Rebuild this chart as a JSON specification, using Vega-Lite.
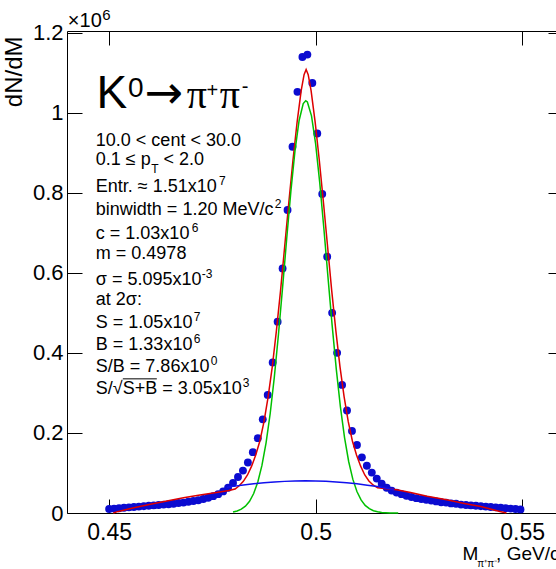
{
"$schema": "https://vega.github.io/schema/vega-lite/v6.json",
"width": 489,
"height": 482,
"autosize": {"type": "none"},
"padding": {"left": 67, "top": 31, "right": 0, "bottom": 56},
"background": "white",
"config": {
  "view": {"stroke": null},
  "axis": {"labelFont": "Liberation Sans", "titleFont": "Liberation Sans", "domainColor": "#000", "tickColor": "#000", "labelColor": "#000", "titleColor": "#000", "grid": false, "domainWidth": 1, "tickWidth": 1}
},
"datasets": {
  "points": [
    {"mass":0.4500,"count":0.010},{"mass":0.4512,"count":0.011},{"mass":0.4524,"count":0.012},{"mass":0.4536,"count":0.013},
    {"mass":0.4548,"count":0.014},{"mass":0.4560,"count":0.015},{"mass":0.4572,"count":0.016},{"mass":0.4584,"count":0.017},
    {"mass":0.4596,"count":0.018},{"mass":0.4608,"count":0.019},{"mass":0.4620,"count":0.020},{"mass":0.4632,"count":0.021},
    {"mass":0.4644,"count":0.022},{"mass":0.4656,"count":0.023},{"mass":0.4668,"count":0.025},{"mass":0.4680,"count":0.026},
    {"mass":0.4692,"count":0.028},{"mass":0.4704,"count":0.030},{"mass":0.4716,"count":0.032},{"mass":0.4728,"count":0.035},
    {"mass":0.4740,"count":0.038},{"mass":0.4752,"count":0.042},{"mass":0.4764,"count":0.047},{"mass":0.4776,"count":0.054},
    {"mass":0.4788,"count":0.063},{"mass":0.4800,"count":0.075},{"mass":0.4812,"count":0.090},{"mass":0.4824,"count":0.106},
    {"mass":0.4836,"count":0.126},{"mass":0.4848,"count":0.152},{"mass":0.4860,"count":0.187},{"mass":0.4872,"count":0.234},
    {"mass":0.4884,"count":0.295},{"mass":0.4896,"count":0.376},{"mass":0.4908,"count":0.478},{"mass":0.4920,"count":0.611},
    {"mass":0.4932,"count":0.757},{"mass":0.4944,"count":0.915},{"mass":0.4956,"count":1.052},{"mass":0.4968,"count":1.139},
    {"mass":0.4980,"count":1.145},{"mass":0.4992,"count":1.074},{"mass":0.5004,"count":0.948},{"mass":0.5016,"count":0.797},
    {"mass":0.5028,"count":0.640},{"mass":0.5040,"count":0.500},{"mass":0.5052,"count":0.400},{"mass":0.5064,"count":0.320},
    {"mass":0.5076,"count":0.256},{"mass":0.5088,"count":0.205},{"mass":0.5100,"count":0.170},{"mass":0.5112,"count":0.139},
    {"mass":0.5124,"count":0.118},{"mass":0.5136,"count":0.101},{"mass":0.5148,"count":0.086},{"mass":0.5160,"count":0.073},
    {"mass":0.5172,"count":0.063},{"mass":0.5184,"count":0.056},{"mass":0.5196,"count":0.051},{"mass":0.5208,"count":0.047},
    {"mass":0.5220,"count":0.043},{"mass":0.5232,"count":0.040},{"mass":0.5244,"count":0.037},{"mass":0.5256,"count":0.035},
    {"mass":0.5268,"count":0.033},{"mass":0.5280,"count":0.031},{"mass":0.5292,"count":0.029},{"mass":0.5304,"count":0.027},
    {"mass":0.5316,"count":0.026},{"mass":0.5328,"count":0.024},{"mass":0.5340,"count":0.023},{"mass":0.5352,"count":0.021},
    {"mass":0.5364,"count":0.020},{"mass":0.5376,"count":0.019},{"mass":0.5388,"count":0.018},{"mass":0.5400,"count":0.017},
    {"mass":0.5412,"count":0.016},{"mass":0.5424,"count":0.015},{"mass":0.5436,"count":0.014},{"mass":0.5448,"count":0.013},
    {"mass":0.5460,"count":0.012},{"mass":0.5472,"count":0.011},{"mass":0.5484,"count":0.010},{"mass":0.5496,"count":0.009}
  ],
  "fits": [
    {"curve":"total","mass":0.4510,"count":0.000},{"curve":"total","mass":0.4522,"count":0.004},{"curve":"total","mass":0.4560,"count":0.013},
    {"curve":"total","mass":0.4600,"count":0.022},{"curve":"total","mass":0.4640,"count":0.030},{"curve":"total","mass":0.4680,"count":0.038},
    {"curve":"total","mass":0.4720,"count":0.045},{"curve":"total","mass":0.4760,"count":0.051},{"curve":"total","mass":0.4790,"count":0.056},
    {"curve":"total","mass":0.4805,"count":0.060},{"curve":"total","mass":0.4815,"count":0.068},{"curve":"total","mass":0.4825,"count":0.079},
    {"curve":"total","mass":0.4835,"count":0.095},{"curve":"total","mass":0.4845,"count":0.117},{"curve":"total","mass":0.4855,"count":0.145},
    {"curve":"total","mass":0.4865,"count":0.180},{"curve":"total","mass":0.4875,"count":0.228},{"curve":"total","mass":0.4885,"count":0.290},
    {"curve":"total","mass":0.4895,"count":0.365},{"curve":"total","mass":0.4905,"count":0.455},{"curve":"total","mass":0.4915,"count":0.555},
    {"curve":"total","mass":0.4925,"count":0.665},{"curve":"total","mass":0.4935,"count":0.775},{"curve":"total","mass":0.4945,"count":0.880},
    {"curve":"total","mass":0.4955,"count":0.975},{"curve":"total","mass":0.4965,"count":1.055},{"curve":"total","mass":0.4972,"count":1.095},
    {"curve":"total","mass":0.4977,"count":1.108},{"curve":"total","mass":0.4982,"count":1.095},{"curve":"total","mass":0.4989,"count":1.055},
    {"curve":"total","mass":0.4999,"count":0.975},{"curve":"total","mass":0.5009,"count":0.880},{"curve":"total","mass":0.5019,"count":0.775},
    {"curve":"total","mass":0.5029,"count":0.665},{"curve":"total","mass":0.5039,"count":0.555},{"curve":"total","mass":0.5049,"count":0.455},
    {"curve":"total","mass":0.5059,"count":0.365},{"curve":"total","mass":0.5069,"count":0.290},{"curve":"total","mass":0.5079,"count":0.228},
    {"curve":"total","mass":0.5089,"count":0.180},{"curve":"total","mass":0.5099,"count":0.145},{"curve":"total","mass":0.5109,"count":0.117},
    {"curve":"total","mass":0.5119,"count":0.095},{"curve":"total","mass":0.5129,"count":0.080},{"curve":"total","mass":0.5139,"count":0.070},
    {"curve":"total","mass":0.5150,"count":0.063},{"curve":"total","mass":0.5196,"count":0.058},{"curve":"total","mass":0.5230,"count":0.051},
    {"curve":"total","mass":0.5270,"count":0.042},{"curve":"total","mass":0.5317,"count":0.033},{"curve":"total","mass":0.5360,"count":0.024},
    {"curve":"total","mass":0.5400,"count":0.016},{"curve":"total","mass":0.5446,"count":0.004},{"curve":"total","mass":0.5462,"count":0.000},

    {"curve":"signal","mass":0.480,"count":0.0027},{"curve":"signal","mass":0.481,"count":0.0052},{"curve":"signal","mass":0.482,"count":0.0096},
    {"curve":"signal","mass":0.483,"count":0.0171},{"curve":"signal","mass":0.484,"count":0.0294},{"curve":"signal","mass":0.485,"count":0.0487},
    {"curve":"signal","mass":0.486,"count":0.0775},{"curve":"signal","mass":0.487,"count":0.1188},{"curve":"signal","mass":0.488,"count":0.1752},
    {"curve":"signal","mass":0.489,"count":0.2485},{"curve":"signal","mass":0.490,"count":0.3395},{"curve":"signal","mass":0.491,"count":0.4460},
    {"curve":"signal","mass":0.492,"count":0.5636},{"curve":"signal","mass":0.493,"count":0.6856},{"curve":"signal","mass":0.494,"count":0.8027},
    {"curve":"signal","mass":0.495,"count":0.9044},{"curve":"signal","mass":0.496,"count":0.9805},{"curve":"signal","mass":0.497,"count":1.0229},
    {"curve":"signal","mass":0.4976,"count":1.0300},{"curve":"signal","mass":0.498,"count":1.0268},{"curve":"signal","mass":0.499,"count":0.9919},
    {"curve":"signal","mass":0.500,"count":0.9221},{"curve":"signal","mass":0.501,"count":0.8247},{"curve":"signal","mass":0.502,"count":0.7100},
    {"curve":"signal","mass":0.503,"count":0.5880},{"curve":"signal","mass":0.504,"count":0.4687},{"curve":"signal","mass":0.505,"count":0.3595},
    {"curve":"signal","mass":0.506,"count":0.2653},{"curve":"signal","mass":0.507,"count":0.1884},{"curve":"signal","mass":0.508,"count":0.1287},
    {"curve":"signal","mass":0.509,"count":0.0846},{"curve":"signal","mass":0.510,"count":0.0536},{"curve":"signal","mass":0.511,"count":0.0326},
    {"curve":"signal","mass":0.512,"count":0.0191},{"curve":"signal","mass":0.513,"count":0.0108},{"curve":"signal","mass":0.514,"count":0.0058},
    {"curve":"signal","mass":0.515,"count":0.0031},{"curve":"signal","mass":0.516,"count":0.0015},{"curve":"signal","mass":0.518,"count":0.0003},
    {"curve":"signal","mass":0.520,"count":0.0001},

    {"curve":"background","mass":0.4785,"count":0.064},{"curve":"background","mass":0.4800,"count":0.0665},{"curve":"background","mass":0.4825,"count":0.070},
    {"curve":"background","mass":0.4850,"count":0.073},{"curve":"background","mass":0.4875,"count":0.0755},{"curve":"background","mass":0.4900,"count":0.0775},
    {"curve":"background","mass":0.4925,"count":0.079},{"curve":"background","mass":0.4950,"count":0.080},{"curve":"background","mass":0.4975,"count":0.0805},
    {"curve":"background","mass":0.5000,"count":0.080},{"curve":"background","mass":0.5025,"count":0.079},{"curve":"background","mass":0.5050,"count":0.0775},
    {"curve":"background","mass":0.5075,"count":0.0755},{"curve":"background","mass":0.5100,"count":0.073},{"curve":"background","mass":0.5125,"count":0.0695},
    {"curve":"background","mass":0.5150,"count":0.066},{"curve":"background","mass":0.5175,"count":0.061},{"curve":"background","mass":0.5190,"count":0.058}
  ],
  "labels": [
    {"role":"body","text":"10.0 < cent < 30.0","mass":0.44678,"count":0.9164},
    {"role":"body","text":"0.1 ≤ p","mass":0.44678,"count":0.8690},
    {"role":"sub","text":"T","mass":0.46022,"count":0.8488},
    {"role":"body","text":"< 2.0","mass":0.46317,"count":0.8690},
    {"role":"body","text":"Entr. ≈ 1.51x10","mass":0.44678,"count":0.8016},
    {"role":"sup","text":"7","mass":0.47661,"count":0.8191},
    {"role":"body","text":"binwidth = 1.20 MeV/c","mass":0.44678,"count":0.7443},
    {"role":"sup","text":"2","mass":0.49012,"count":0.7618},
    {"role":"body","text":"c = 1.03x10","mass":0.44678,"count":0.6844},
    {"role":"sup","text":"6","mass":0.47002,"count":0.7019},
    {"role":"body","text":"m = 0.4978","mass":0.44678,"count":0.6345},
    {"role":"body","text":"σ = 5.095x10","mass":0.44678,"count":0.5696},
    {"role":"sup","text":"-3","mass":0.47245,"count":0.5871},
    {"role":"body","text":"at 2σ:","mass":0.44678,"count":0.5197},
    {"role":"body","text":"S = 1.05x10","mass":0.44678,"count":0.4623},
    {"role":"sup","text":"7","mass":0.47051,"count":0.4798},
    {"role":"body","text":"B = 1.33x10","mass":0.44678,"count":0.4074},
    {"role":"sup","text":"6","mass":0.47051,"count":0.4249},
    {"role":"body","text":"S/B = 7.86x10","mass":0.44678,"count":0.3526},
    {"role":"sup","text":"0","mass":0.47462,"count":0.3701},
    {"role":"body","text":"S/√S+B = 3.05x10","mass":0.44678,"count":0.2977},
    {"role":"sup","text":"3","mass":0.48237,"count":0.3152},
    {"role":"big","text":"K","mass":0.44695,"count":1.0112},
    {"role":"bigsup","text":"0","mass":0.45459,"count":1.0395},
    {"role":"arrow","text":"→","mass":0.45860,"count":1.0112},
    {"role":"pi","text":"π","mass":0.46880,"count":1.0112},
    {"role":"bigsign","text":"+","mass":0.47360,"count":1.0395},
    {"role":"pi","text":"π","mass":0.47680,"count":1.0112},
    {"role":"bigsign","text":"-","mass":0.48210,"count":1.0480},
    {"role":"exp","text":"×10","mass":0.44000,"count":1.2137},
    {"role":"expsup","text":"6","mass":0.44835,"count":1.2310},
    {"role":"xtitle","text":"M","mass":0.53557,"count":-0.1175},
    {"role":"xsub","text":"π⁺π⁻","mass":0.53915,"count":-0.1355},
    {"role":"xtitle","text":", GeV/c²","mass":0.54370,"count":-0.1175}
  ],
  "overline": [
    {"mass":0.45332,"mass2":0.46155,"count":0.3351}
  ]
},
"layer": [
  {
    "data": {"name": "points"},
    "mark": {"type": "circle", "size": 62, "opacity": 1, "color": "#0b0bd0"},
    "encoding": {
      "x": {"field": "mass", "type": "quantitative", "scale": {"domain": [0.4398, 0.5582], "nice": false, "zero": false},
            "axis": {"orient": "bottom", "values": [0.45, 0.5, 0.55], "format": ".2~f", "labelFontSize": 23, "tickSize": -14, "labelPadding": 22, "title": null}},
      "y": {"field": "count", "type": "quantitative", "scale": {"domain": [0, 1.204], "nice": false, "zero": false},
            "axis": {"orient": "left", "values": [0, 0.2, 0.4, 0.6, 0.8, 1, 1.2], "format": ".1~f", "labelFontSize": 22, "tickSize": -15, "labelPadding": 19,
                     "title": "dN/dM", "titleFontSize": 24, "titleFontWeight": "normal", "titleAngle": 270, "titleAlign": "right", "titleBaseline": "alphabetic", "titleX": -46, "titleY": 5}}
    }
  },
  {
    "data": {"name": "fits"},
    "mark": {"type": "line", "strokeWidth": 1.5},
    "encoding": {
      "x": {"field": "mass", "type": "quantitative", "axis": {"orient": "top", "values": [0.45, 0.5, 0.55], "labels": false, "tickSize": -14, "title": null}},
      "y": {"field": "count", "type": "quantitative", "axis": {"orient": "right", "values": [0, 0.2, 0.4, 0.6, 0.8, 1, 1.2], "labels": false, "domain": false, "tickSize": -8, "title": null}},
      "color": {"field": "curve", "type": "nominal", "scale": {"domain": ["total", "signal", "background"], "range": ["#dd0000", "#00c000", "#1010ee"]}, "legend": null}
    }
  },
  {
    "data": {"name": "overline"},
    "mark": {"type": "rule", "strokeWidth": 1, "color": "#000"},
    "encoding": {
      "x": {"field": "mass", "type": "quantitative", "axis": null},
      "x2": {"field": "mass2"},
      "y": {"field": "count", "type": "quantitative", "axis": null}
    }
  },
  {
    "data": {"name": "labels"},
    "transform": [{"filter": "datum.role === 'body'"}],
    "mark": {"type": "text", "align": "left", "baseline": "alphabetic", "font": "Liberation Sans", "fontSize": 18, "color": "#000"},
    "encoding": {"x": {"field": "mass", "type": "quantitative", "axis": null}, "y": {"field": "count", "type": "quantitative", "axis": null}, "text": {"field": "text"}}
  },
  {
    "data": {"name": "labels"},
    "transform": [{"filter": "datum.role === 'sup' || datum.role === 'sub'"}],
    "mark": {"type": "text", "align": "left", "baseline": "alphabetic", "font": "Liberation Sans", "fontSize": 12, "color": "#000"},
    "encoding": {"x": {"field": "mass", "type": "quantitative", "axis": null}, "y": {"field": "count", "type": "quantitative", "axis": null}, "text": {"field": "text"}}
  },
  {
    "data": {"name": "labels"},
    "transform": [{"filter": "datum.role === 'big'"}],
    "mark": {"type": "text", "align": "left", "baseline": "alphabetic", "font": "Liberation Sans", "fontSize": 46, "color": "#000"},
    "encoding": {"x": {"field": "mass", "type": "quantitative", "axis": null}, "y": {"field": "count", "type": "quantitative", "axis": null}, "text": {"field": "text"}}
  },
  {
    "data": {"name": "labels"},
    "transform": [{"filter": "datum.role === 'arrow'"}],
    "mark": {"type": "text", "align": "left", "baseline": "alphabetic", "font": "DejaVu Sans", "fontSize": 46, "color": "#000"},
    "encoding": {"x": {"field": "mass", "type": "quantitative", "axis": null}, "y": {"field": "count", "type": "quantitative", "axis": null}, "text": {"field": "text"}}
  },
  {
    "data": {"name": "labels"},
    "transform": [{"filter": "datum.role === 'pi'"}],
    "mark": {"type": "text", "align": "left", "baseline": "alphabetic", "font": "Liberation Serif", "fontSize": 40, "color": "#000"},
    "encoding": {"x": {"field": "mass", "type": "quantitative", "axis": null}, "y": {"field": "count", "type": "quantitative", "axis": null}, "text": {"field": "text"}}
  },
  {
    "data": {"name": "labels"},
    "transform": [{"filter": "datum.role === 'bigsup'"}],
    "mark": {"type": "text", "align": "left", "baseline": "alphabetic", "font": "Liberation Sans", "fontSize": 28, "color": "#000"},
    "encoding": {"x": {"field": "mass", "type": "quantitative", "axis": null}, "y": {"field": "count", "type": "quantitative", "axis": null}, "text": {"field": "text"}}
  },
  {
    "data": {"name": "labels"},
    "transform": [{"filter": "datum.role === 'bigsign'"}],
    "mark": {"type": "text", "align": "left", "baseline": "alphabetic", "font": "Liberation Sans", "fontSize": 20, "color": "#000"},
    "encoding": {"x": {"field": "mass", "type": "quantitative", "axis": null}, "y": {"field": "count", "type": "quantitative", "axis": null}, "text": {"field": "text"}}
  },
  {
    "data": {"name": "labels"},
    "transform": [{"filter": "datum.role === 'exp'"}],
    "mark": {"type": "text", "align": "left", "baseline": "alphabetic", "font": "Liberation Sans", "fontSize": 20, "color": "#000"},
    "encoding": {"x": {"field": "mass", "type": "quantitative", "axis": null}, "y": {"field": "count", "type": "quantitative", "axis": null}, "text": {"field": "text"}}
  },
  {
    "data": {"name": "labels"},
    "transform": [{"filter": "datum.role === 'expsup'"}],
    "mark": {"type": "text", "align": "left", "baseline": "alphabetic", "font": "Liberation Sans", "fontSize": 15, "color": "#000"},
    "encoding": {"x": {"field": "mass", "type": "quantitative", "axis": null}, "y": {"field": "count", "type": "quantitative", "axis": null}, "text": {"field": "text"}}
  },
  {
    "data": {"name": "labels"},
    "transform": [{"filter": "datum.role === 'xtitle'"}],
    "mark": {"type": "text", "align": "left", "baseline": "alphabetic", "font": "Liberation Sans", "fontSize": 19, "color": "#000"},
    "encoding": {"x": {"field": "mass", "type": "quantitative", "axis": null}, "y": {"field": "count", "type": "quantitative", "axis": null}, "text": {"field": "text"}}
  },
  {
    "data": {"name": "labels"},
    "transform": [{"filter": "datum.role === 'xsub'"}],
    "mark": {"type": "text", "align": "left", "baseline": "alphabetic", "font": "Liberation Sans", "fontSize": 10, "color": "#000"},
    "encoding": {"x": {"field": "mass", "type": "quantitative", "axis": null}, "y": {"field": "count", "type": "quantitative", "axis": null}, "text": {"field": "text"}}
  }
],
"resolve": {"axis": {"x": "independent", "y": "independent"}}
}
